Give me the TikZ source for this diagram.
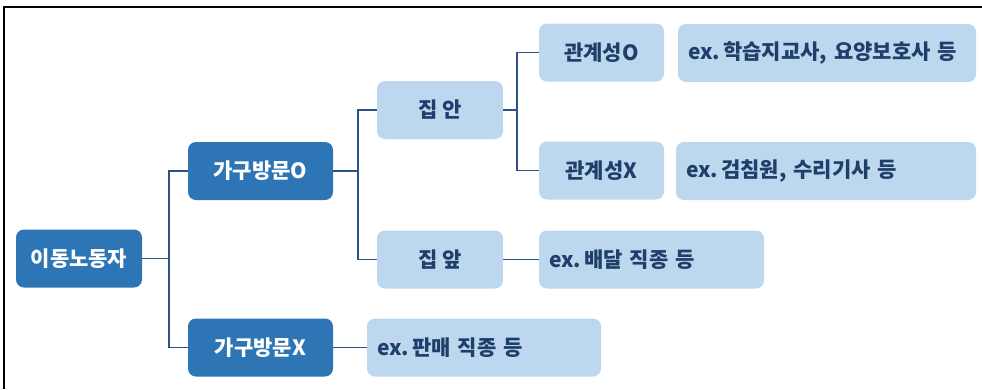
\documentclass[tikz,border=0pt]{standalone}
\usepackage{fontspec}
\setmainfont{Noto Sans CJK KR}
\definecolor{darkblue}{HTML}{2E75B6}
\definecolor{lightblue}{HTML}{BDD7EE}
\definecolor{navytext}{HTML}{1F3F6B}
\definecolor{linecol}{HTML}{2B5385}
\begin{document}
\begin{tikzpicture}[x=1pt,y=-1pt,
  box/.style={font=\fontsize{21}{24}\selectfont\bfseries, rounded corners=8pt, inner sep=0pt, minimum height=58pt, anchor=center},
  dark/.style={box, fill=darkblue, text=white},
  light/.style={box, fill=lightblue, text=navytext},
  example/.style={light, inner xsep=10pt, align=left},
  conn/.style={draw=linecol, line width=1.6pt}]
\useasboundingbox (0,0) rectangle (982,389);
\draw[line width=2pt] (4,389) -- (4,7) -- (982,7);

\node[dark, minimum width=126pt] (A) at (79,258.5) {이동노동자};
\node[dark, minimum width=145pt] (B1) at (260.5,171) {가구방문O};
\node[dark, minimum width=145pt] (B2) at (260.5,347.5) {가구방문X};
\node[light, minimum width=126pt] (C1) at (440,110) {집 안};
\node[light, minimum width=126pt] (C2) at (440,259.5) {집 앞};
\node[light, minimum width=125pt] (D1) at (601.5,52.5) {관계성O};
\node[light, minimum width=125pt] (D2) at (601.5,170.5) {관계성X};
\node[example, text width=278pt] (E1) at (827,53) {ex.\,학습지교사, 요양보호사 등};
\node[example, text width=280pt] (E2) at (826,171) {ex.\,검침원, 수리기사 등};
\node[example, text width=205pt] (E3) at (651.5,259.5) {ex.\,배달 직종 등};
\node[example, text width=214pt] (E4) at (484,347.5) {ex.\,판매 직종 등};

\coordinate (j1) at (169,258.5);
\coordinate (j2) at (358,171);
\coordinate (j3) at (517,110);
\draw[conn] (A.east) -- (j1);
\draw[conn] (B1.west) -| (j1) |- (B2.west);
\draw[conn] (B1.east) -- (j2);
\draw[conn] (C1.west) -| (j2) |- (C2.west);
\draw[conn] (C1.east) -- (j3);
\draw[conn] (D1.west) -| (j3) |- (D2.west);
\draw[conn] (C2.east) -- (E3.west);
\draw[conn] (B2.east) -- (E4.west);
\end{tikzpicture}
\end{document}
